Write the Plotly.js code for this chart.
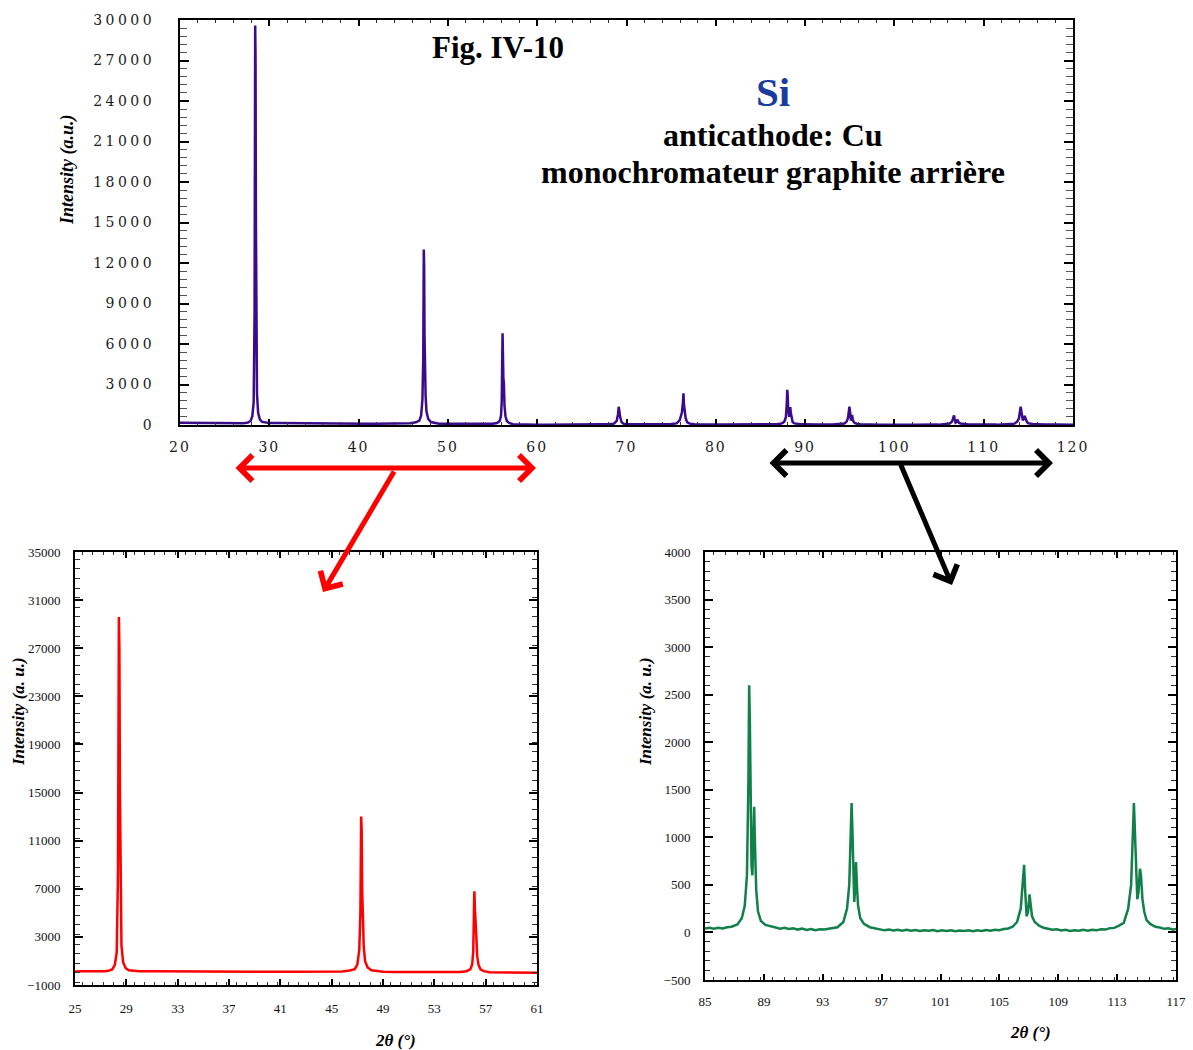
<!DOCTYPE html>
<html>
<head>
<meta charset="utf-8">
<script src="https://cdn.plot.ly/plotly-3.0.1.min.js"></script>
<style>
  html, body { margin: 0; padding: 0; background: #ffffff; }
  #chart { width: 1193px; height: 1050px; }
  .xtick text { letter-spacing: 2px; }
  .ytick text { letter-spacing: 3.5px; }
</style>
</head>
<body>
<div id="chart"></div>
<script>
// 2θ (degrees) and intensity (a.u.)
const twoTheta = [
  20.0, 20.5, 21.0, 21.5, 22.0, 22.5, 23.0, 23.5, 24.0, 24.5, 25.0, 25.5, 26.0, 26.5, 27.0, 27.3, 27.6, 27.9,
  28.1, 28.25, 28.35, 28.42, 28.46, 28.5, 28.55, 28.62, 28.75, 28.95, 29.2, 29.6,
  30.0, 31.0, 32.0, 33.0, 34.0, 35.0, 36.0, 37.0, 38.0, 39.0, 40.0, 41.0, 42.0, 43.0, 44.0, 45.0, 45.8, 46.4, 46.8,
  47.0, 47.15, 47.24, 47.3, 47.34, 47.38, 47.43, 47.5, 47.6, 47.8, 48.1, 48.6,
  49.0, 50.0, 51.0, 52.0, 53.0, 54.0, 55.0, 55.5, 55.8, 55.95,
  56.03, 56.08, 56.12, 56.16, 56.21, 56.27, 56.34, 56.45, 56.6, 56.85, 57.3,
  58.0, 59.0, 60.0, 61.0, 62.0, 63.0, 64.0, 65.0, 66.0, 67.0, 68.0, 68.6, 68.9,
  69.05, 69.13, 69.2, 69.3, 69.45, 69.7, 70.2, 71.0, 72.0, 73.0, 74.0, 75.0, 75.6, 75.95,
  76.2, 76.32, 76.38, 76.44, 76.52, 76.62, 76.8, 77.1, 77.6, 78.0, 79.0, 80.0, 81.0, 82.0, 83.0, 84.0,
  85.0, 85.3, 85.6, 85.9, 86.2, 86.5, 86.8, 87.2, 87.5, 87.7, 87.85, 87.95,
  88.0, 88.05, 88.1, 88.16, 88.22, 88.28, 88.34, 88.4, 88.48, 88.6, 88.8, 89.1, 89.5,
  89.8, 90.1, 90.4, 90.7, 91.0, 91.3, 91.6, 91.9, 92.2, 92.5, 92.8, 93.1, 93.4, 93.7, 94.0,
  94.4, 94.65, 94.8, 94.9, 94.96,
  95.02, 95.08, 95.14, 95.2, 95.26, 95.32, 95.4, 95.55, 95.8, 96.2, 96.6,
  96.9, 97.2, 97.5, 97.8, 98.1, 98.4, 98.7, 99.0, 99.3, 99.6, 99.9, 100.2, 100.5, 100.8,
  101.1, 101.4, 101.7, 102.0, 102.3, 102.6, 102.9, 103.2, 103.5, 103.8,
  104.1, 104.4, 104.7, 105.0, 105.3, 105.6, 105.9, 106.2, 106.45, 106.6, 106.68, 106.75, 106.85, 106.95,
  107.05, 107.12, 107.22, 107.4, 107.7, 108.0, 108.3, 108.6, 108.9, 109.2, 109.5, 109.8, 110.1,
  110.4, 110.7, 111.0, 111.3, 111.6, 111.9, 112.2, 112.5, 112.8, 113.1,
  113.45, 113.75, 113.95, 114.06, 114.14, 114.2, 114.28, 114.37, 114.45,
  114.55, 114.62, 114.72, 114.84, 115.0, 115.25, 115.6, 115.9, 116.2, 116.5, 116.8, 117.0, 118.0, 119.0, 120.0
];
const intensity = [
  170, 160, 165, 150, 155, 145, 150, 140, 145, 135, 130, 135, 125, 130, 135, 150, 180, 300,
  650, 1700, 8200, 29600, 27000, 15200, 6200, 2300, 900, 400, 230, 170,
  150, 140, 130, 125, 118, 120, 115, 105, 100, 98, 96, 92, 95, 94, 100, 105, 130, 200, 320,
  700, 1900, 5000, 13000, 11800, 6800, 4600, 2200, 1000, 450, 220, 130,
  100, 85, 80, 78, 72, 75, 90, 150, 300, 700,
  1800, 4600, 6800, 5400, 3500, 3100, 1400, 650, 300, 150, 60,
  40, 30, 20, 15, 30, 35, 40, 40, 45, 50, 60, 100, 300,
  800, 1350, 700, 550, 200, 90, 60, 50, 45, 50, 55, 70, 120, 350,
  900, 1700, 2350, 1500, 1050, 500, 200, 100, 60, 50, 45, 40, 42, 40, 40, 40,
  42, 48, 38, 50, 41, 55, 60, 85, 150, 280, 600, 1600,
  2600, 2200, 1300, 700, 600, 1000, 1320, 900, 450, 220, 120, 80, 60,
  52, 40, 48, 36, 44, 30, 40, 27, 36, 24, 34, 30, 38, 42, 55,
  110, 250, 500, 1000, 1360,
  1050, 600, 320, 450, 740, 500, 280, 150, 90, 55, 40,
  34, 22, 30, 20, 28, 18, 27, 17, 26, 15, 24, 17, 25, 14,
  23, 16, 22, 12, 21, 15, 24, 13, 22, 16,
  25, 18, 29, 24, 36, 42, 60, 110, 250, 500, 710, 450, 170, 220,
  400, 300, 170, 110, 70, 50, 38, 28, 33, 20, 28, 16, 24,
  18, 27, 19, 29, 22, 34, 30, 45, 48, 70,
  100, 250, 500, 1000, 1360, 1100, 600, 350, 420,
  670, 600, 350, 220, 130, 90, 60, 52, 38, 44, 30, 36, 30, 28, 25
];

const W = 1193, H = 1050;
const px = v => v / W;
const py = v => 1 - v / H;

const serif = 'Liberation Serif';

const traces = [
  { x: twoTheta, y: intensity, xaxis: 'x', yaxis: 'y', mode: 'lines',
    line: { color: '#3b0b8c', width: 2.5 }, hoverinfo: 'skip' },
  { x: twoTheta, y: intensity, xaxis: 'x2', yaxis: 'y2', mode: 'lines',
    line: { color: '#ff0000', width: 2.5 }, hoverinfo: 'skip' },
  { x: twoTheta, y: intensity, xaxis: 'x3', yaxis: 'y3', mode: 'lines',
    line: { color: '#11804a', width: 2.5 }, hoverinfo: 'skip' }
];

function axisBase(extra) {
  return Object.assign({
    showline: true, linecolor: '#000', linewidth: 2, mirror: 'allticks',
    ticks: 'inside', tickcolor: '#000', showgrid: false, zeroline: false,
    tickmode: 'linear', tickformat: 'd', exponentformat: 'none'
  }, extra);
}

const topTickFont = { family: 'DejaVu Serif', size: 14, color: '#1a1a1a' };
const botTickFont = { family: serif, size: 13, color: '#111' };

const layout = {
  width: W, height: H,
  margin: { l: 0, r: 0, t: 0, b: 0, pad: 0 },
  paper_bgcolor: '#fff', plot_bgcolor: '#fff',
  showlegend: false,
  xaxis: axisBase({ domain: [px(180), px(1073)], anchor: 'y', range: [20, 120],
    tick0: 20, dtick: 10, ticklen: 6, tickwidth: 2, tickfont: topTickFont, ticklabelstandoff: 8,
    minor: { dtick: 2, ticklen: 3, tickwidth: 1, tickcolor: '#333', ticks: 'inside' } }),
  yaxis: axisBase({ domain: [py(425), py(20)], anchor: 'x', range: [0, 30000],
    tick0: 0, dtick: 3000, ticklen: 9, tickwidth: 2, tickfont: topTickFont, ticklabelstandoff: 20,
    minor: { dtick: 600, ticklen: 7, tickwidth: 1, tickcolor: '#555', ticks: 'inside' } }),
  xaxis2: axisBase({ domain: [px(75), px(537)], anchor: 'y2', range: [25, 61],
    tick0: 25, dtick: 4, ticklen: 6, tickwidth: 1.5, tickfont: botTickFont, ticklabelstandoff: 10,
    minor: { dtick: 0.8, ticklen: 3, tickwidth: 1, tickcolor: '#333', ticks: 'inside' } }),
  yaxis2: axisBase({ domain: [py(985), py(552)], anchor: 'x2', range: [-1000, 35000],
    tick0: -1000, dtick: 4000, ticklen: 8, tickwidth: 1.5, tickfont: botTickFont, ticklabelstandoff: 10,
    minor: { dtick: 800, ticklen: 5, tickwidth: 1, tickcolor: '#333', ticks: 'inside' } }),
  xaxis3: axisBase({ domain: [px(705), px(1176)], anchor: 'y3', range: [85, 117],
    tick0: 85, dtick: 4, ticklen: 6, tickwidth: 1.5, tickfont: botTickFont, ticklabelstandoff: 8,
    minor: { dtick: 0.8, ticklen: 3, tickwidth: 1, tickcolor: '#333', ticks: 'inside' } }),
  yaxis3: axisBase({ domain: [py(980), py(552)], anchor: 'x3', range: [-500, 4000],
    tick0: -500, dtick: 500, ticklen: 8, tickwidth: 1.5, tickfont: botTickFont, ticklabelstandoff: 10,
    minor: { dtick: 100, ticklen: 5, tickwidth: 1, tickcolor: '#333', ticks: 'inside' } }),
  annotations: [
    { text: 'Fig. IV-10', x: px(498), y: py(47), xref: 'paper', yref: 'paper', showarrow: false,
      xanchor: 'center', yanchor: 'middle', font: { family: serif, size: 31, weight: 'bold', color: '#000' } },
    { text: 'Si', x: px(773), y: py(92), xref: 'paper', yref: 'paper', showarrow: false,
      xanchor: 'center', yanchor: 'middle', font: { family: serif, size: 41, weight: 'bold', color: '#1a3c9e' } },
    { text: 'anticathode: Cu', x: px(773), y: py(135), xref: 'paper', yref: 'paper', showarrow: false,
      xanchor: 'center', yanchor: 'middle', font: { family: serif, size: 32, weight: 'bold', color: '#000' } },
    { text: 'monochromateur graphite arrière', x: px(773), y: py(172), xref: 'paper', yref: 'paper', showarrow: false,
      xanchor: 'center', yanchor: 'middle', font: { family: serif, size: 32, weight: 'bold', color: '#000' } },
    { text: 'Intensity (a.u.)', x: px(68), y: py(170), xref: 'paper', yref: 'paper', showarrow: false,
      textangle: -90, xanchor: 'center', yanchor: 'middle',
      font: { family: serif, size: 18, weight: 'bold', style: 'italic', color: '#000' } },
    { text: 'Intensity (a. u.)', x: px(18), y: py(712), xref: 'paper', yref: 'paper', showarrow: false,
      textangle: -90, xanchor: 'center', yanchor: 'middle',
      font: { family: serif, size: 17, weight: 'bold', style: 'italic', color: '#000' } },
    { text: 'Intensity (a. u.)', x: px(645), y: py(712), xref: 'paper', yref: 'paper', showarrow: false,
      textangle: -90, xanchor: 'center', yanchor: 'middle',
      font: { family: serif, size: 17, weight: 'bold', style: 'italic', color: '#000' } },
    { text: '2θ (°)', x: px(395), y: py(1040), xref: 'paper', yref: 'paper', showarrow: false,
      xanchor: 'center', yanchor: 'middle',
      font: { family: serif, size: 17, weight: 'bold', style: 'italic', color: '#000' } },
    { text: '2θ (°)', x: px(1030), y: py(1032), xref: 'paper', yref: 'paper', showarrow: false,
      xanchor: 'center', yanchor: 'middle',
      font: { family: serif, size: 17, weight: 'bold', style: 'italic', color: '#000' } },
    // red double arrow + pointer
    { text: '', x: px(536), y: py(468), xref: 'paper', yref: 'paper', showarrow: true,
      axref: 'pixel', ayref: 'pixel', ax: -302, ay: 0, arrowside: 'end+start',
      arrowhead: 4, startarrowhead: 4, arrowsize: 1, startarrowsize: 1, arrowwidth: 5,
      arrowcolor: '#ff0000', standoff: 0, startstandoff: 0 },
    { text: '', x: px(323), y: py(592), xref: 'paper', yref: 'paper', showarrow: true,
      axref: 'pixel', ayref: 'pixel', ax: 72, ay: -122,
      arrowhead: 4, arrowsize: 1, arrowwidth: 5, arrowcolor: '#ff0000', standoff: 0 },
    // black double arrow + pointer
    { text: '', x: px(1053), y: py(463), xref: 'paper', yref: 'paper', showarrow: true,
      axref: 'pixel', ayref: 'pixel', ax: -285, ay: 0, arrowside: 'end+start',
      arrowhead: 4, startarrowhead: 4, arrowsize: 1, startarrowsize: 1, arrowwidth: 5,
      arrowcolor: '#000000', standoff: 0, startstandoff: 0 },
    { text: '', x: px(952), y: py(585), xref: 'paper', yref: 'paper', showarrow: true,
      axref: 'pixel', ayref: 'pixel', ax: -52, ay: -122,
      arrowhead: 4, arrowsize: 1, arrowwidth: 5, arrowcolor: '#000000', standoff: 0 }
  ]
};

Plotly.newPlot('chart', traces, layout, { displayModeBar: false, responsive: false });
</script>
</body>
</html>
